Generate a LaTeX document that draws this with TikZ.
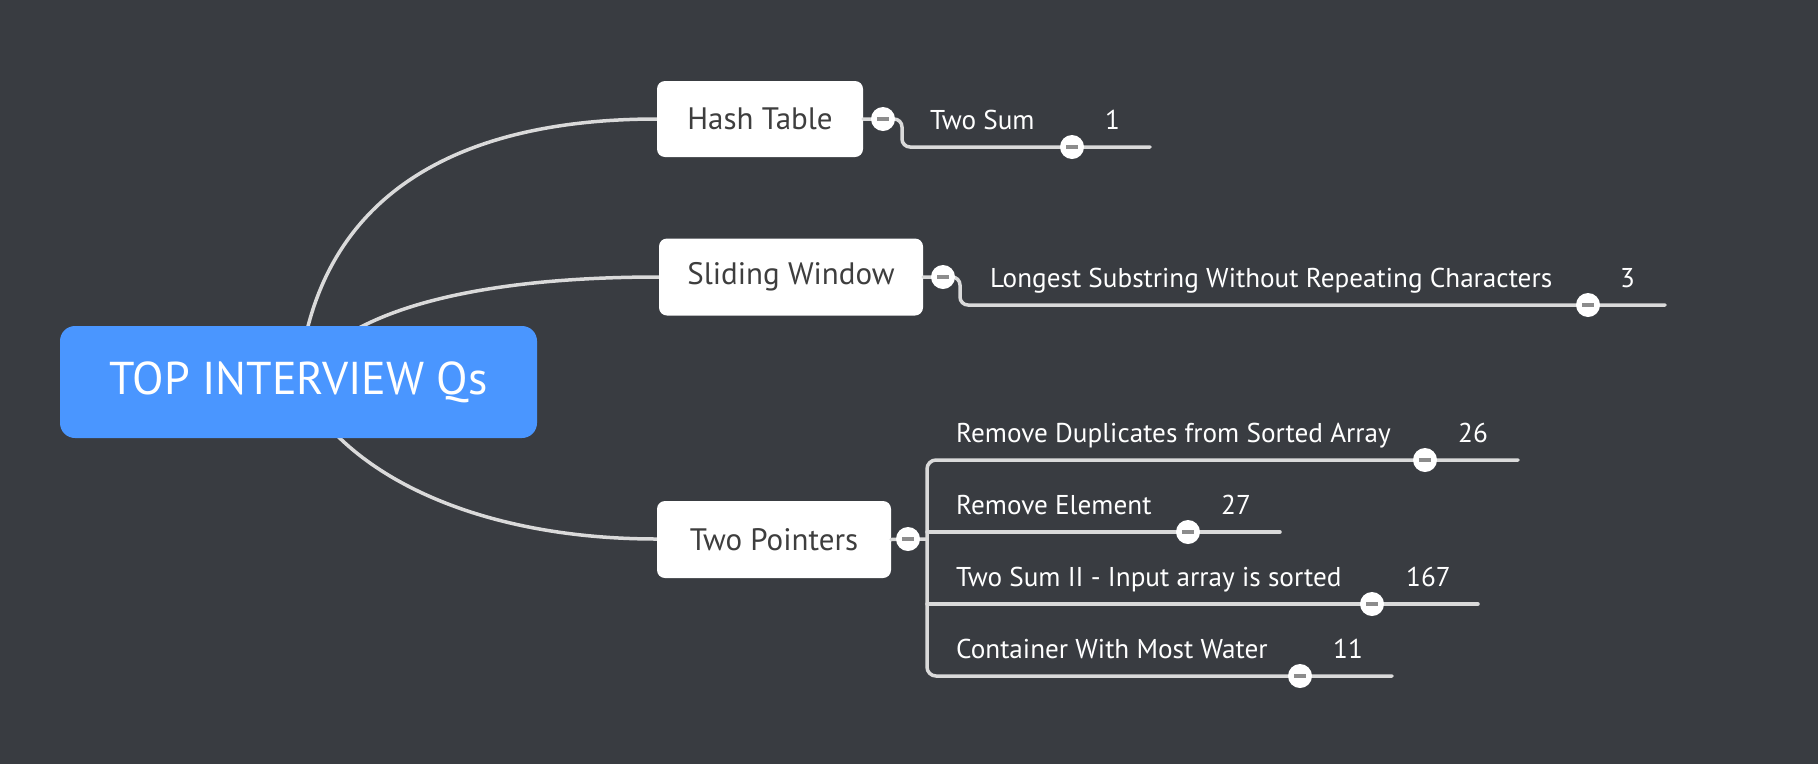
\documentclass[tikz,border=0pt]{standalone}
\usepackage{fontspec}
\setmainfont{PT Sans}
\usetikzlibrary{calc}
\definecolor{bg}{RGB}{57,60,65}
\definecolor{rootblue}{RGB}{74,150,255}
\definecolor{conncol}{RGB}{218,218,218}
\definecolor{boxtext}{RGB}{62,62,62}
\definecolor{dashcol}{RGB}{140,140,140}
\tikzset{
  conn/.style={draw=conncol, line width=3.5pt, line cap=round},
  topicbox/.style={draw=none, fill=white, rounded corners=8pt, text=boxtext, font=\fontsize{31}{36}\selectfont, inner sep=0pt},
  rootbox/.style={draw=none, fill=rootblue, rounded corners=15pt, text=white, font=\fontsize{46}{54}\selectfont, inner sep=0pt, minimum width=477pt, minimum height=112pt},
  leaftext/.style={text=white, font=\fontsize{27.2}{32}\selectfont, inner sep=0pt, anchor=base west},
  collapse/.style={circle, fill=white, draw=none, minimum size=24pt, inner sep=0pt,
    path picture={\fill[dashcol] ([xshift=-6pt,yshift=-1.6pt]path picture bounding box.center) rectangle ++(12pt,3.2pt);}},
}
\begin{document}
\begin{tikzpicture}[x=1pt,y=-1pt]
\useasboundingbox (0,0) rectangle (1818,764);
\fill[bg] (0,0) rectangle (1818,764);

% main topic curves
\coordinate (rc) at (298.5,382);
\coordinate (hl) at (657,119);
\coordinate (sl) at (659,277);
\coordinate (tl) at (657,539);
\draw[conn] (rc) .. controls (315,200) and (450,119) .. (hl);
\draw[conn] (rc) .. controls (338,312) and (470,277) .. (sl);
\draw[conn] (rc) .. controls (340,470) and (470,539) .. (tl);

% root
\node[rootbox] (root) at (298.5,382) {TOP INTERVIEW Qs};

% topics
\node[topicbox, minimum width=206pt, minimum height=76pt] (hash) at (760,119) {Hash Table};
\node[topicbox, minimum width=264pt, minimum height=77pt] (slide) at (791,277) {Sliding Window};
\node[topicbox, minimum width=234pt, minimum height=77pt] (tp) at (774,539.5) {Two Pointers};

% ---------- Hash Table branch
\coordinate (hend) at (1150,147);
\draw[conn] (hash.east) -- (883,119) [rounded corners=8pt] -- (902,119) -- (902,147) -- (hend);
\node[collapse] (hc) at (883,119) {};
\node[collapse] (l1c) at (1072,147) {};
\node[leaftext] (l1) at (930,129) {Two Sum};
\node[leaftext] (n1) at (1105,129) {1};

% ---------- Sliding Window branch
\coordinate (send) at (1665,305);
\draw[conn] (slide.east) -- (943,277) [rounded corners=8pt] -- (960,277) -- (960,305) -- (send);
\node[collapse] (sc) at (943,277) {};
\node[collapse] (l2c) at (1588,305) {};
\node[leaftext] (l2) at (990,287) {Longest Substring Without Repeating Characters};
\node[leaftext] (n2) at (1620,287) {3};

% ---------- Two Pointers branch
\coordinate (e26) at (1518,460);
\coordinate (e27) at (1280,532);
\coordinate (e167) at (1478,604);
\coordinate (e11) at (1392,676);
\draw[conn] (tp.east) -- (927,539);
\draw[conn] [rounded corners=9pt] (e26) -- (927,460) -- (927,676) -- (e11);
\draw[conn] (927,532) -- (e27);
\draw[conn] (927,604) -- (e167);
\node[collapse] (tc) at (908,539) {};
\node[collapse] (c26) at (1425,460) {};
\node[collapse] (c27) at (1188,532) {};
\node[collapse] (c167) at (1372,604) {};
\node[collapse] (c11) at (1300,676) {};
\node[leaftext] (t26) at (956,442) {Remove Duplicates from Sorted Array};
\node[leaftext] (n26) at (1458,442) {26};
\node[leaftext] (t27) at (956,514) {Remove Element};
\node[leaftext] (n27) at (1221,514) {27};
\node[leaftext] (t167) at (956,586) {Two Sum II - Input array is sorted};
\node[leaftext] (n167) at (1406,586) {167};
\node[leaftext] (t11) at (956,658) {Container With Most Water};
\node[leaftext] (n11) at (1333,658) {11};
\end{tikzpicture}
\end{document}
